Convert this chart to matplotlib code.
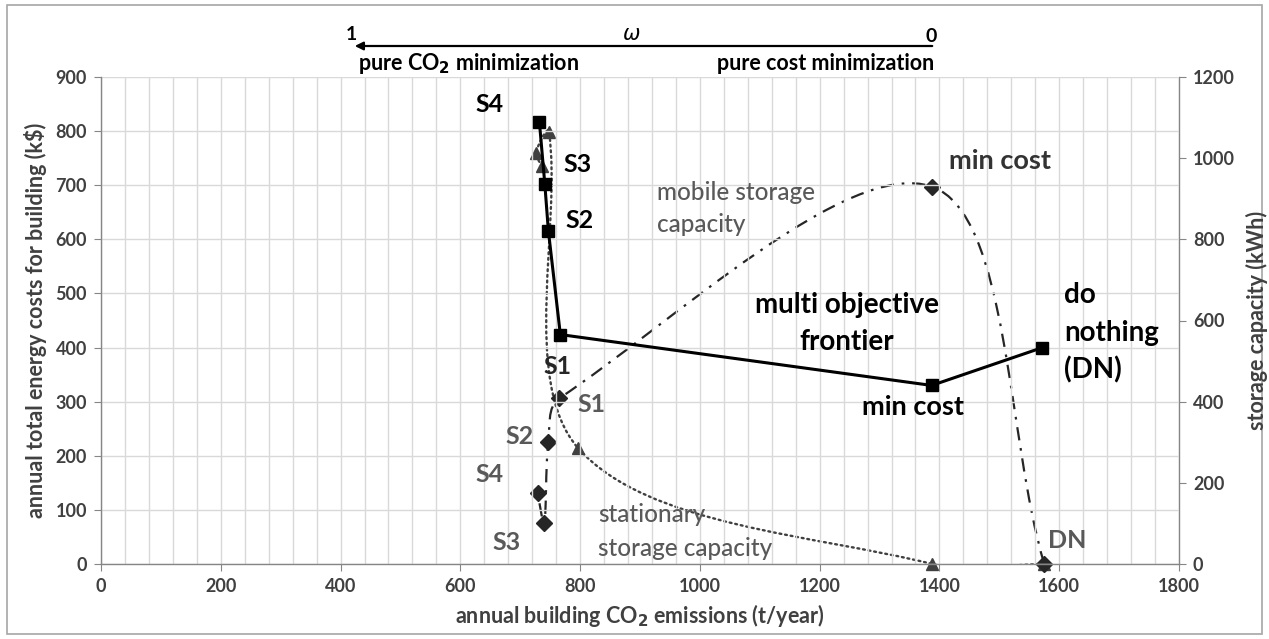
import matplotlib
matplotlib.use("Agg")
import matplotlib.pyplot as plt
from matplotlib.path import Path
from matplotlib.patches import PathPatch, Rectangle, FancyArrowPatch
from matplotlib.ticker import MultipleLocator
import numpy as np

plt.rcParams['font.family'] = ['Lato', 'DejaVu Sans']

# ---------------- data ----------------
# multi objective frontier (left axis, k$)
front_labels = ["S4", "S3", "S2", "S1", "min cost", "DN"]
front_co2 = [732, 741, 747, 767, 1387, 1572]
front_cost = [817, 703, 616, 424, 330, 400]

# mobile storage capacity (right axis, kWh)
mob_labels = ["DN", "min cost", "S1", "S2", "S3", "S4"]
mob_co2 = [1575, 1387, 765, 747, 740, 729]
mob_cap = [0, 930, 408, 300, 100, 174]

# stationary storage capacity (right axis, kWh)
sta_labels = ["DN", "min cost", "S1", "S2", "S3", "S4"]
sta_co2 = [1575, 1388, 797, 748, 726, 736]
sta_cap = [0, 0, 285, 1065, 1013, 981]

W, H = 1269, 639
fig = plt.figure(figsize=(W / 100, H / 100), dpi=100)
ax = fig.add_axes([101 / W, 1 - 564 / H, (1179 - 101) / W, (564 - 77) / H])
ax2 = ax.twinx()

AXC = "#868686"
TXT = "#404040"
GRID = "#d9d9d9"

ax.set_xlim(0, 1800)
ax.set_ylim(0, 900)
ax2.set_ylim(0, 1200)
ax.xaxis.set_major_locator(MultipleLocator(200))
ax.xaxis.set_minor_locator(MultipleLocator(40))
ax.yaxis.set_major_locator(MultipleLocator(100))
ax2.yaxis.set_major_locator(MultipleLocator(200))
ax.grid(True, which="both", axis="x", color=GRID, lw=1.0, zorder=0)
ax.grid(True, which="major", axis="y", color=GRID, lw=1.0, zorder=0)
ax.set_axisbelow(True)

for a in (ax, ax2):
    for s in a.spines.values():
        s.set_color(AXC)
        s.set_linewidth(1.0)
    a.spines["top"].set_visible(False)
ax.spines["right"].set_visible(False)
ax2.spines["left"].set_visible(False)
ax2.spines["bottom"].set_visible(False)

ax.tick_params(axis="both", which="major", direction="out", length=5, color=AXC,
               labelsize=13, labelcolor=TXT, pad=5)
ax.tick_params(axis="x", which="minor", length=0)
ax2.tick_params(axis="y", direction="out", length=5, color=AXC, labelsize=13,
                labelcolor=TXT, pad=5)
for lab in ax.get_xticklabels() + ax.get_yticklabels() + ax2.get_yticklabels():
    lab.set_fontweight("bold")


def smooth_path(axis, xs, ys):
    """Excel-like smoothed line: Bezier segments, tangents scaled by chord length."""
    pts = np.column_stack([xs, ys]).astype(float)
    disp = axis.transData.transform(pts)
    n = len(pts)
    verts = [pts[0]]
    codes = [Path.MOVETO]
    for i in range(n - 1):
        i0 = max(i - 1, 0)
        i3 = min(i + 2, n - 1)
        p0, p1, p2, p3 = pts[i0], pts[i], pts[i + 1], pts[i3]
        d01 = np.linalg.norm(disp[i] - disp[i0])
        d12 = np.linalg.norm(disp[i + 1] - disp[i])
        d23 = np.linalg.norm(disp[i3] - disp[i + 1])
        f1 = d12 / (3.0 * (d01 + d12)) if (d01 + d12) > 0 else 0
        f2 = d12 / (3.0 * (d12 + d23)) if (d12 + d23) > 0 else 0
        c1 = p1 + (p2 - p0) * f1
        c2 = p2 - (p3 - p1) * f2
        verts += [c1, c2, p2]
        codes += [Path.CURVE4] * 3
    return Path(verts, codes)


# stationary storage (dotted)
pp = PathPatch(smooth_path(ax2, sta_co2, sta_cap), fill=False, edgecolor="#404040",
               lw=1.7, linestyle=(0, (0.8, 1.6)), capstyle="round", zorder=3)
ax2.add_patch(pp)
ax2.plot(sta_co2, sta_cap, linestyle="none", marker="^", ms=8, color="#404040",
         zorder=4, clip_on=False)

# mobile storage (dash-dot)
pm = PathPatch(smooth_path(ax2, mob_co2, mob_cap), fill=False, edgecolor="#262626",
               lw=1.6, linestyle=(0, (6.0, 3.5, 1.2, 3.5)), zorder=3)
ax2.add_patch(pm)
ax2.plot(mob_co2, mob_cap, linestyle="none", marker="D", ms=8, color="#262626",
         zorder=4, clip_on=False)

# frontier on top
ax2.set_zorder(1)
ax.set_zorder(2)
ax.patch.set_visible(False)
ax2.patch.set_facecolor("white")
ax.plot(front_co2, front_cost, color="black", lw=2.2, marker="s", ms=9,
        zorder=5, clip_on=False)

ax.set_xlabel("annual building CO$_\\mathbf{2}$ emissions (t/year)", fontsize=15.5,
              fontweight="bold", color=TXT, labelpad=5)
ax.set_ylabel("annual total energy costs for building (k$)", fontsize=15.5,
              fontweight="bold", color=TXT, labelpad=6)
ax2.set_ylabel("storage capacity (kWh)", fontsize=15.5, fontweight="bold",
               color=TXT, labelpad=8)


def T(x, y, s, **kw):
    fig.text(x / W, 1 - y / H, s, **kw)


BLK = "black"
GRY = "#595959"
SL = 18
# frontier labels
T(490, 105, "S4", fontsize=SL, fontweight="bold", color=BLK, ha="center", va="center")
T(578, 165, "S3", fontsize=SL, fontweight="bold", color=BLK, ha="center", va="center")
T(580, 220, "S2", fontsize=SL, fontweight="bold", color=BLK, ha="center", va="center")
T(558, 367, "S1", fontsize=SL, fontweight="bold", color="#262626", ha="center", va="center")
# mobile labels
T(592, 405, "S1", fontsize=SL, fontweight="bold", color=GRY, ha="center", va="center")
T(520, 437, "S2", fontsize=SL, fontweight="bold", color=GRY, ha="center", va="center")
T(490, 474, "S4", fontsize=SL, fontweight="bold", color=GRY, ha="center", va="center")
T(507, 542, "S3", fontsize=SL, fontweight="bold", color=GRY, ha="center", va="center")
T(1067, 540, "DN", fontsize=SL, fontweight="bold", color=GRY, ha="center", va="center")

T(1000, 161, "min cost", fontsize=19.5, fontweight="bold", color="#333333", ha="center", va="center")
T(913, 407, "min cost", fontsize=19.5, fontweight="bold", color=BLK, ha="center", va="center")
T(847, 305, "multi objective", fontsize=20, fontweight="bold", color=BLK, ha="center", va="center")
T(847, 342, "frontier", fontsize=20, fontweight="bold", color=BLK, ha="center", va="center")
T(1064, 295, "do", fontsize=20, fontweight="bold", color=BLK, ha="left", va="center")
T(1064, 333, "nothing", fontsize=20, fontweight="bold", color=BLK, ha="left", va="center")
T(1064, 370, "(DN)", fontsize=20, fontweight="bold", color=BLK, ha="left", va="center")

T(657, 193, "mobile storage", fontsize=17.5, fontweight="medium", color=GRY, ha="left", va="center")
T(657, 225, "capacity", fontsize=17.5, fontweight="medium", color=GRY, ha="left", va="center")
T(598, 514, "stationary", fontsize=17.5, fontweight="medium", color=GRY, ha="left", va="center")
T(598, 548, "storage capacity", fontsize=17.5, fontweight="medium", color=GRY, ha="left", va="center")

# top omega arrow
fig.add_artist(FancyArrowPatch(
    (935 / W, 1 - 46 / H), (352 / W, 1 - 46 / H), transform=fig.transFigure,
    arrowstyle="-|>", mutation_scale=12, lw=1.6, color="black"))
T(351, 35, "1", fontsize=14, fontweight="bold", color=BLK, ha="center", va="center")
T(931, 37, "0", fontsize=14, fontweight="bold", color=BLK, ha="center", va="center")
T(632, 34, "ω", fontsize=15, style="italic", color=BLK, ha="center", va="center",
  family=["DejaVu Sans"])
T(358, 63, "pure CO$_\\mathbf{2}$ minimization", fontsize=15.5, fontweight="bold", color=BLK,
  ha="left", va="center")
T(934, 63, "pure cost minimization", fontsize=15.5, fontweight="bold", color=BLK,
  ha="right", va="center")

# figure frame
fig.add_artist(Rectangle((7 / W, 5 / H), (W - 14) / W, (H - 10) / H,
                         transform=fig.transFigure, fill=False,
                         edgecolor="#a6a6a6", lw=1.2))

fig.savefig("out.png", dpi=100)
